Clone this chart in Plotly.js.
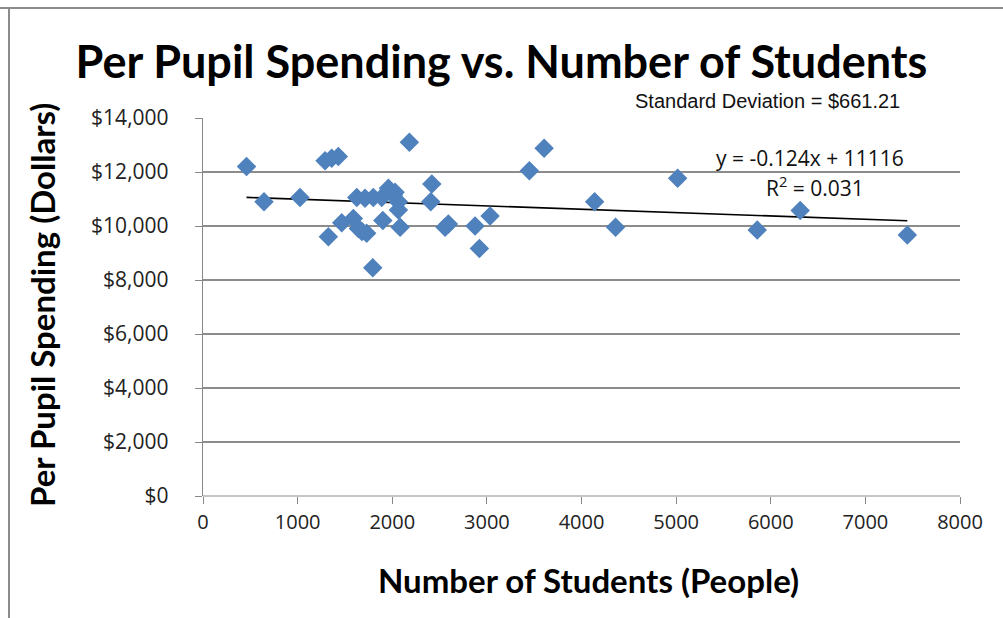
<!DOCTYPE html>
<html>
<head>
<meta charset="utf-8">
<script src="https://cdn.plot.ly/plotly-3.0.1.min.js"></script>
<style>html,body{margin:0;padding:0;background:#fff;}#chart{width:1003px;height:618px;}</style>
</head>
<body>
<div id="chart"></div>
<script>
// Number of students (x) and per pupil spending in dollars (y)
const students = [460, 645, 1025, 1290, 1360, 1430, 1325, 1466, 1589, 1642,
  1730, 1625, 1712, 1800, 1889, 1959, 2012, 2065, 2065, 1900,
  2083, 1794, 2181, 2418, 2407, 2593, 2558, 2875, 2921, 3034,
  3449, 3605, 4139, 4360, 5016, 5857, 6311, 7443, 1680, 2030];
const spending = [12200, 10900, 11060, 12420, 12510, 12570, 9600, 10120, 10280, 9910,
  9730, 11060, 11030, 11060, 11060, 11400, 11150, 10900, 10590, 10200,
  9950, 8450, 13100, 11560, 10900, 10070, 9950, 10000, 9170, 10370,
  12050, 12880, 10900, 9950, 11770, 9850, 10570, 9670, 9800, 11250];
const trendSlope = -0.124;
const trendIntercept = 11116;
const yTickVals = [0, 2000, 4000, 6000, 8000, 10000, 12000, 14000];
const yTickText = ["$0", "$2,000", "$4,000", "$6,000", "$8,000", "$10,000", "$12,000", "$14,000"];
const xTickVals = [0, 1000, 2000, 3000, 4000, 5000, 6000, 7000, 8000];
const titleText = "Per Pupil Spending vs. Number of Students";
const xTitle = "Number of Students (People)";
const yTitle = "Per Pupil Spending (Dollars)";
const sdText = "Standard Deviation = $661.21";
const eqText = "y = -0.124x + 11116";
const r2Text = "R<sup>2</sup> = 0.031";

const xMin = Math.min(...students), xMax = Math.max(...students);
const trendX = [xMin, xMax];
const trendY = trendX.map(v => trendSlope * v + trendIntercept);

const pts = {
  x: students, y: spending, type: 'scatter', mode: 'markers',
  marker: {symbol: 'diamond', size: 15, color: '#4F81BD', line: {width: 0}},
  hoverinfo: 'x+y', showlegend: false
};
const trend = {
  x: trendX, y: trendY, type: 'scatter', mode: 'lines',
  line: {color: '#000000', width: 1.6}, hoverinfo: 'skip', showlegend: false
};

const PW = 757, PH = 378;
function px(p) { return (p - 203) / PW; }
function py(p) { return (496 - p) / PH; }

const layout = {
  width: 1003, height: 618,
  margin: {l: 203, r: 43, t: 118, b: 122},
  paper_bgcolor: '#ffffff', plot_bgcolor: '#ffffff',
  font: {family: 'Lato, "Open Sans", sans-serif', color: '#222'},
  title: {text: '<b>' + titleText + '</b>', x: 0.5, xanchor: 'center', y: 0.9, yanchor: 'middle',
    font: {family: 'Lato, "Open Sans", sans-serif', size: 45, color: '#000'}},
  xaxis: {
    range: [0, 8000], tickvals: xTickVals, ticks: 'outside', ticklen: 7, tickcolor: '#888',
    ticklabelstandoff: 1,
    showgrid: false, zeroline: false, showline: false,
    tickfont: {family: '"Open Sans", sans-serif', size: 20, color: '#222'},
    automargin: false
  },
  yaxis: {
    range: [0, 14000], tickvals: yTickVals, ticktext: yTickText, ticks: 'outside', ticklen: 7, tickcolor: '#888',
    ticklabelstandoff: 22,
    showgrid: true, gridcolor: '#8c8c8c', gridwidth: 1.2, zeroline: false,
    showline: true, linecolor: '#888', linewidth: 1.2,
    tickfont: {family: '"Open Sans", sans-serif', size: 21, color: '#222'},
    automargin: false
  },
  shapes: [
    {type: 'line', xref: 'paper', yref: 'paper', x0: 0, x1: 1, y0: 0, y1: 0,
      line: {color: '#8c8c8c', width: 1.2}},
    {type: 'line', xref: 'paper', yref: 'paper', x0: px(0), x1: px(1003), y0: py(8), y1: py(8),
      line: {color: '#8c8c8c', width: 2}},
    {type: 'line', xref: 'paper', yref: 'paper', x0: px(9), x1: px(9), y0: py(8), y1: py(618),
      line: {color: '#8c8c8c', width: 2}}
  ],
  annotations: [
    {text: '<b>' + xTitle + '</b>', xref: 'paper', yref: 'paper', x: px(588), y: py(580), xanchor: 'center', yanchor: 'middle',
      showarrow: false, font: {family: 'Lato, sans-serif', size: 33, color: '#000'}},
    {text: '<b>' + yTitle + '</b>', xref: 'paper', yref: 'paper', x: px(42), y: py(305), xanchor: 'center', yanchor: 'middle',
      textangle: -90, showarrow: false, font: {family: 'Lato, sans-serif', size: 33, color: '#000'}},
    {text: sdText, xref: 'paper', yref: 'paper', x: px(767), y: py(101), xanchor: 'center', yanchor: 'middle',
      showarrow: false, font: {family: '"Liberation Sans", sans-serif', size: 20, color: '#111'}},
    {text: eqText, xref: 'paper', yref: 'paper', x: px(810), y: py(158), xanchor: 'center', yanchor: 'middle',
      showarrow: false, font: {family: '"Open Sans", sans-serif', size: 21, color: '#111'}},
    {text: r2Text, xref: 'paper', yref: 'paper', x: px(815), y: py(186), xanchor: 'center', yanchor: 'middle',
      showarrow: false, font: {family: '"Open Sans", sans-serif', size: 21, color: '#111'}}
  ]
};

Plotly.newPlot('chart', [trend, pts], layout, {displayModeBar: false, staticPlot: true});
</script>
</body>
</html>
